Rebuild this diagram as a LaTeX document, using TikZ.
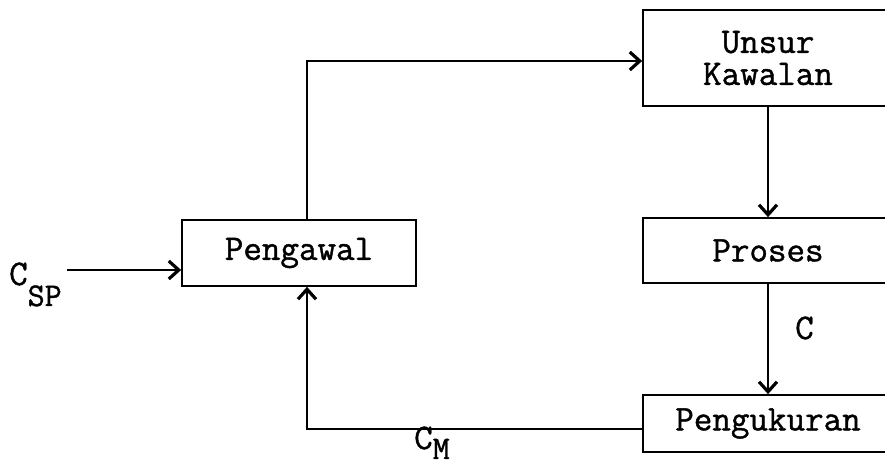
\documentclass[tikz,border=0pt]{standalone}
\usepackage{fontspec}
\newfontfamily\typew{Latin Modern Mono}[FakeBold=1.2]
\usetikzlibrary{arrows.meta}
\begin{document}
\begin{tikzpicture}[x=1pt,y=1pt,
  box/.style={draw,line width=1.7pt,inner sep=0pt,font=\fontsize{36}{32}\selectfont\typew,align=center},
  conn/.style={line width=1.5pt},
  arr/.style={conn,-{Straight Barb[length=10pt,width=18pt,line width=3.2pt]}},
  lbl/.style={inner sep=0pt,font=\fontsize{36}{30}\selectfont\typew}]
\useasboundingbox (0,0) rectangle (885,468);
\clip (0,0) rectangle (885,468);
\node[box,minimum width=234pt,minimum height=66pt] (peng) at (299,215) {Pengawal};
\node[box,minimum width=250pt,minimum height=96pt] (unsur) at (768,410) {Unsur\\Kawalan};
\node[box,minimum width=250pt,minimum height=65pt] (proses) at (768,217.5) {Proses};
\node[box,minimum width=250pt,minimum height=57pt] (ukur) at (768,44.5) {Pengukuran};
\coordinate (in) at (67,198);
\coordinate (tl) at (307,407);
\coordinate (bl) at (307,39);
\draw[arr] (in) -- (in -| peng.west);
\draw[arr] (peng.north -| tl) -- (tl) -- (tl -| unsur.west);
\draw[arr] (unsur.south) -- (proses.north);
\draw[arr] (proses.south) -- (ukur.north);
\draw[arr] (bl -| ukur.west) -- (bl) -- (bl |- peng.south);
\node[lbl,anchor=base west] (csp) at (9,183) {C\raisebox{-21pt}{\fontsize{33}{29}\selectfont SP}};
\node[lbl,anchor=base west] (c) at (795,129) {C};
\node[lbl,anchor=base west] (cm) at (414,19) {C\raisebox{-10pt}{\fontsize{33}{29}\selectfont M}};
\end{tikzpicture}
\end{document}
